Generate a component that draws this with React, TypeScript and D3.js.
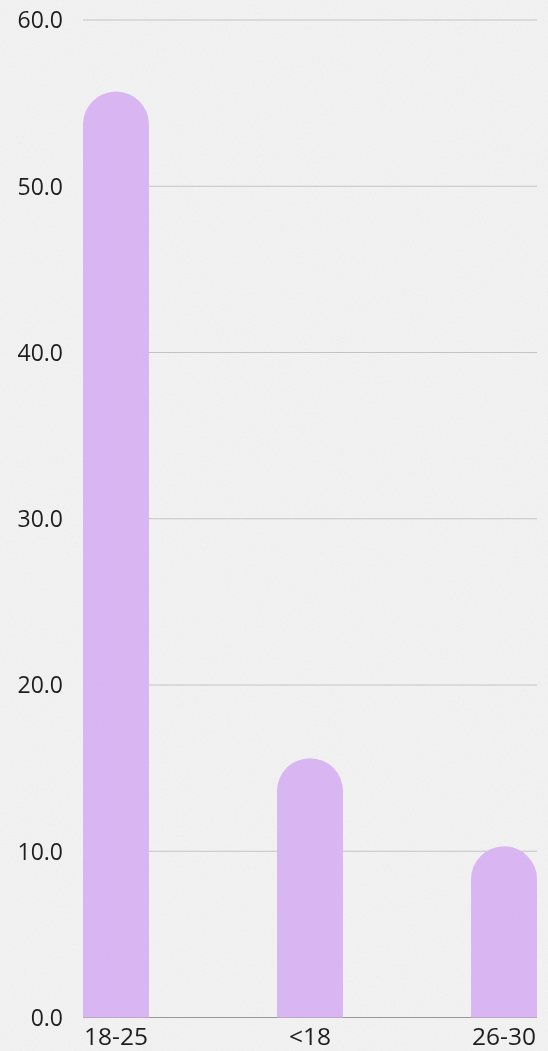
import React from "react";
import * as d3 from "d3";

const categories: string[] = ["18-25", "<18", "26-30"];
const values: number[] = [55.7, 15.6, 10.3];
const yTicks: number[] = [0, 10, 20, 30, 40, 50, 60];

const W = 548;
const H = 1051;
const margin = { top: 20, right: 11, bottom: 33.5, left: 83 };

export default function App() {
  const x = d3
    .scaleBand<string>()
    .domain(categories)
    .range([margin.left, W - margin.right])
    .paddingInner(0.66)
    .paddingOuter(0);
  const y = d3
    .scaleLinear()
    .domain([0, 60])
    .range([H - margin.bottom, margin.top]);

  const bw = x.bandwidth();
  const r = bw / 2;

  // Bar with a fully rounded (semicircular) top cap
  const barPath = (c: string, v: number) => {
    const x0 = x(c)!;
    const y0 = y(0);
    const yt = y(v);
    const p = d3.path();
    p.moveTo(x0, y0);
    p.lineTo(x0, yt + r);
    p.arc(x0 + r, yt + r, r, Math.PI, 0);
    p.lineTo(x0 + bw, y0);
    p.closePath();
    return p.toString();
  };

  const font = "'Open Sans', 'DejaVu Sans', sans-serif";

  return (
    <svg
      width={W}
      height={H}
      style={{ position: "absolute", left: 0, top: 0, display: "block" }}
    >
      <defs>
        <filter id="grain" x="0" y="0" width="100%" height="100%">
          <feTurbulence type="fractalNoise" baseFrequency="0.9" numOctaves="2" seed="3" />
          <feColorMatrix type="saturate" values="0" />
        </filter>
      </defs>
      <rect width={W} height={H} fill="#f3f3f3" />
      {yTicks.slice(1).map((t) => (
        <line
          key={t}
          x1={margin.left}
          x2={W - margin.right}
          y1={y(t)}
          y2={y(t)}
          stroke="#c6c6c6"
          strokeWidth={1}
        />
      ))}
      <line
        x1={margin.left}
        x2={W - margin.right}
        y1={y(0)}
        y2={y(0)}
        stroke="#9a9a9a"
        strokeWidth={1}
      />
      {categories.map((c, i) => (
        <path key={c} d={barPath(c, values[i])} fill="#dbb8f4" />
      ))}
      {yTicks.map((t) => (
        <text
          key={t}
          x={63}
          y={y(t)}
          dy="0.36em"
          textAnchor="end"
          fontFamily={font}
          fontSize={23}
          fill="#1e1e1e"
        >
          {t.toFixed(1)}
        </text>
      ))}
      {categories.map((c) => (
        <text
          key={c}
          x={x(c)! + bw / 2}
          y={1045}
          textAnchor="middle"
          fontFamily={font}
          fontSize={24.5}
          fill="#1e1e1e"
        >
          {c}
        </text>
      ))}
      <rect width={W} height={H} filter="url(#grain)" opacity={0.08} style={{ mixBlendMode: "multiply" }} />
    </svg>
  );
}
